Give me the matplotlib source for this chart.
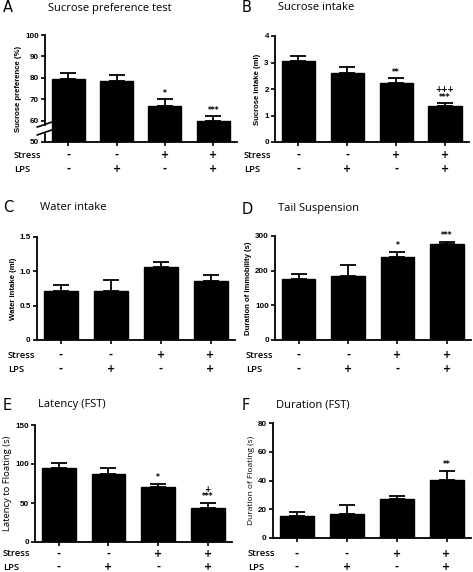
import matplotlib
matplotlib.use("Agg")
import matplotlib.pyplot as plt
import matplotlib.transforms as mtrans
import numpy as np

# ---- data ----
stress_row = ["-", "-", "+", "+"]
lps_row = ["-", "+", "-", "+"]

sucrose_pref = [79.5, 78.5, 67.0, 59.8]
sucrose_pref_err = [2.8, 2.6, 3.0, 2.3]
sucrose_pref_sig = ["", "", "*", "***"]

sucrose_intake = [3.04, 2.62, 2.22, 1.34]
sucrose_intake_err = [0.21, 0.20, 0.18, 0.12]
sucrose_intake_sig = ["", "", "**", "+++\n***"]

water_intake = [0.72, 0.72, 1.07, 0.86]
water_intake_err = [0.08, 0.16, 0.07, 0.08]
water_intake_sig = ["", "", "", ""]

tail_susp = [177, 185, 240, 278]
tail_susp_err = [12, 31, 14, 6]
tail_susp_sig = ["", "", "*", "***"]

latency_fst = [94.3, 86.8, 70.0, 43.7]
latency_fst_err = [6.4, 7.6, 5.0, 6.4]
latency_fst_sig = ["", "", "*", "+\n***"]

duration_fst = [15.0, 16.9, 27.0, 40.3]
duration_fst_err = [3.0, 6.1, 2.5, 6.5]
duration_fst_sig = ["", "", "", "**"]

W, H = 473, 572
fig = plt.figure(figsize=(W / 100, H / 100), dpi=100)

TICK_FONT = dict(family="Liberation Sans", weight="bold", size=5.8)
TITLE_FONT = dict(family="Open Sans", size=8.0)
ROW_FONT = dict(family="Open Sans", weight="semibold", size=6.8)
YLAB_BOLD = dict(family="Liberation Sans", weight="bold", size=5.6)


def px_axes(left, right, top, bottom):
    return fig.add_axes([left / W, 1 - bottom / H, (right - left) / W, (bottom - top) / H])


def panel(box, letter, letter_x, title, vals, errs, sigs, ylim, yticks, yticklabels, ylabel,
          title_y, row_y, label_x, ylab_font=YLAB_BOLD, row_gap=14):
    left, right, top, bottom = box
    ax = px_axes(left, right, top, bottom)
    x = np.arange(len(vals))
    lo = np.zeros(len(vals))
    ax.bar(x, np.array(vals) - ylim[0], bottom=ylim[0], width=0.68, color="black",
           edgecolor="black", zorder=2)
    ax.errorbar(x, vals, yerr=[lo, errs], fmt="none", ecolor="black", elinewidth=1.3,
                capsize=5.5, capthick=1.3, zorder=3)
    span = ylim[1] - ylim[0]
    for xi, v, e, s in zip(x, vals, errs, sigs):
        if s:
            ax.text(xi, v + e + span * 0.015, s, ha="center", va="bottom",
                    fontsize=5.5, fontweight="bold", linespacing=0.75)
    ax.set_xlim(-0.48, 3.49)
    ax.set_ylim(*ylim)
    ax.set_yticks(yticks)
    ax.set_yticklabels(yticklabels, **TICK_FONT)
    ax.set_xticks(x)
    ax.set_xticklabels([])
    for sp in ["top", "right"]:
        ax.spines[sp].set_visible(False)
    for sp in ["left", "bottom"]:
        ax.spines[sp].set_linewidth(1.3)
    ax.tick_params(axis="both", direction="out", length=3, width=1.2, pad=1.5)
    ax.set_ylabel(ylabel, labelpad=2, **ylab_font)

    # panel letter and title
    fig.text(letter_x / W, 1 - title_y / H, letter,
             fontsize=10.5, family="DejaVu Sans", va="center", ha="left")
    fig.text((left + 3) / W, 1 - title_y / H, title, va="center", ha="left", **TITLE_FONT)

    # Stress / LPS rows
    trans = mtrans.blended_transform_factory(ax.transData, fig.transFigure)
    fig.text(label_x / W, 1 - row_y / H, "Stress", va="center", ha="left", **ROW_FONT)
    fig.text(label_x / W, 1 - (row_y + row_gap) / H, "LPS", va="center", ha="left", **ROW_FONT)
    for xi, s1, s2 in zip(x, stress_row, lps_row):
        ax.text(xi, 1 - row_y / H, s1, transform=trans, ha="center", va="center",
                fontsize=7, fontweight="bold")
        ax.text(xi, 1 - (row_y + row_gap) / H, s2, transform=trans, ha="center", va="center",
                fontsize=7, fontweight="bold")
    return ax


axA = panel((45, 237, 35, 142), "A", 3, "Sucrose preference test", sucrose_pref, sucrose_pref_err,
            sucrose_pref_sig, (50, 100), [50, 60, 70, 80, 90, 100],
            ["50", "60", "70", "80", "90", "100"], "Sucrose preference (%)", 8, 155, 14)
# axis break on A
bt = mtrans.blended_transform_factory(axA.transAxes, axA.transData)
axA.add_patch(plt.Rectangle((-0.02, 54.6), 0.04, 3.0, transform=bt, color="white",
                            clip_on=False, zorder=5))
axA.plot([-0.04, 0.035], [53.3, 55.6], transform=bt, color="black", lw=1.2, clip_on=False, zorder=6)
axA.plot([-0.04, 0.035], [57.0, 59.3], transform=bt, color="black", lw=1.2, clip_on=False, zorder=6)

panel((275, 469, 36, 142), "B", 242, "Sucrose intake", sucrose_intake, sucrose_intake_err,
      sucrose_intake_sig, (0, 4), [0, 1, 2, 3, 4], ["0", "1", "2", "3", "4"],
      "Sucrose intake (ml)", 8, 155, 244)

panel((37, 235, 237, 340), "C", 3, "Water intake", water_intake, water_intake_err,
      water_intake_sig, (0, 1.5), [0, 0.5, 1.0, 1.5], ["0", "0.5", "1.0", "1.5"],
      "Water intake (ml)", 208, 355, 8)

panel((275, 471, 236, 340), "D", 242, "Tail Suspension", tail_susp, tail_susp_err,
      tail_susp_sig, (0, 300), [0, 100, 200, 300], ["0", "100", "200", "300"],
      "Duration of Immobility (s)", 209, 355, 246)

panel((35, 232, 425, 542), "E", 3, "Latency (FST)", latency_fst, latency_fst_err,
      latency_fst_sig, (0, 150), [0, 50, 100, 150], ["0", "50", "100", "150"],
      "Latency to Floating (s)", 405, 554, 3,
      ylab_font=dict(family="Open Sans", size=6.8), row_gap=13)

panel((273, 471, 423, 538), "F", 242, "Duration (FST)", duration_fst, duration_fst_err,
      duration_fst_sig, (0, 80), [0, 20, 40, 60, 80], ["0", "20", "40", "60", "80"],
      "Duration of Floating (s)", 405, 554, 248,
      ylab_font=dict(family="Open Sans", size=6.0), row_gap=13)

fig.savefig("out.png", dpi=100)
